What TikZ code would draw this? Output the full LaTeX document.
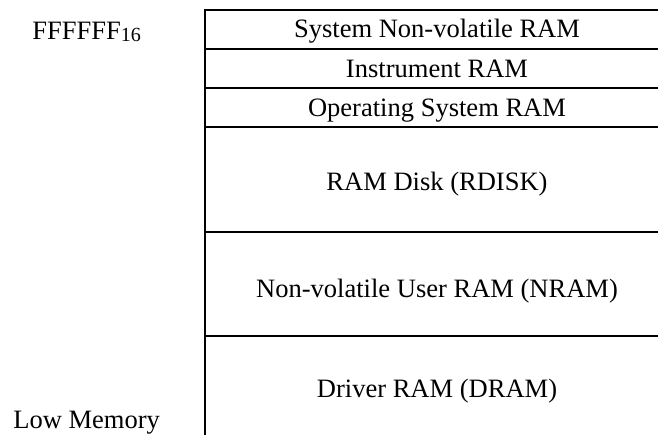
\documentclass[tikz,border=0pt]{standalone}
\usepackage{fontspec}
\setmainfont{Liberation Serif}
\usetikzlibrary{positioning}
\newcommand{\boundary}[2]
{
	\draw[divider] (#1) -- (#2)
}
\newcommand{\hexsub}[1]{\raisebox{-0.6pt}{\fontsize{11.4}{12}\selectfont #1}}

\begin{document}
\begin{tikzpicture}[x=0.02cm, y=-0.02cm,
	every node/.append style={font=\fontsize{15.1}{18}\selectfont, inner sep=0pt},
	region/.style={anchor=base},
	address/.style={anchor=base west},
	divider/.style={line width=0.6pt},
	edge/.style={line width=1.2pt}]

	\useasboundingbox (0, 0) rectangle (658, 435);

	\coordinate (TL) at (205, 10);
	\coordinate (TR) at (658, 10);
	\coordinate (BL) at (205, 435);
	\coordinate (A1) at (205, 49);
	\coordinate (B1) at (658, 49);
	\coordinate (A2) at (205, 88);
	\coordinate (B2) at (658, 88);
	\coordinate (A3) at (205, 127);
	\coordinate (B3) at (658, 127);
	\coordinate (A4) at (205, 232);
	\coordinate (B4) at (658, 232);
	\coordinate (A5) at (205, 336);
	\coordinate (B5) at (658, 336);

	\node[address] at (32, 40) (high){FFFFFF\hexsub{16}};
	\node[address] at (13, 428) (low){Low Memory};

	\node[region] at (437, 38) (sysnv){System Non-volatile RAM};
	\node[region] at (437, 78) (instr){Instrument RAM};
	\node[region] at (437, 117) (osram){Operating System RAM};
	\node[region] at (437, 191) (rdisk){RAM Disk (RDISK)};
	\node[region] at (437, 297) (nram){Non-volatile User RAM (NRAM)};
	\node[region] at (437, 397) (dram){Driver RAM (DRAM)};

	\boundary{A1}{B1};
	\boundary{A2}{B2};
	\boundary{A3}{B3};
	\boundary{A4}{B4};
	\boundary{A5}{B5};
	\draw[edge] (BL) -- (TL) -- (TR);
\end{tikzpicture}
\end{document}
